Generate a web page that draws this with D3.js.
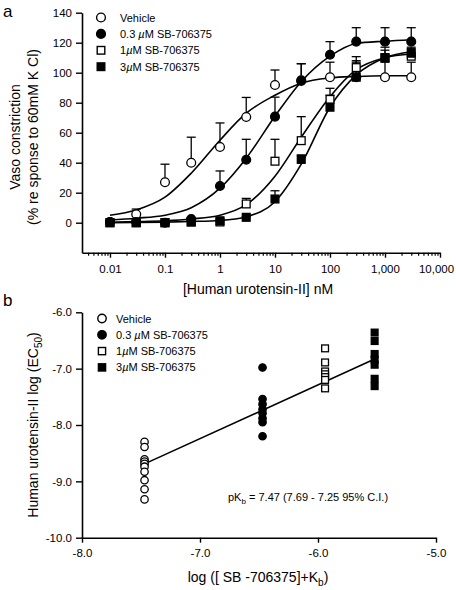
<!DOCTYPE html>
<html><head><meta charset="utf-8">
<script src="https://cdn.jsdelivr.net/npm/d3@7"></script>
<style>
html,body{margin:0;padding:0;background:#fff;}
svg{display:block;font-family:"Liberation Sans",Arial,sans-serif;}
</style></head>
<body><svg id="c" width="456" height="590"></svg>
<script>
// ---------- Panel a data ----------
const conc = [0.01, 0.03, 0.1, 0.3, 1, 3, 10, 30, 100, 300, 1000, 3000];
const seriesNames = ["Vehicle", "0.3 \u00b5M SB-706375", "1\u00b5M SB-706375", "3\u00b5M SB-706375"];
const vehicleMean = [0.5, 5.6, 27, 40, 50.5, 70.5, 91.8, 95, 97, 97, 97, 97];
const vehicleErr  = [0, 3.5, 12, 17, 16, 13, 10, 11, 10, 10, 10, 10];
const sb03Mean = [0.5, 0.5, 0, 2.5, 24.5, 42, 70.7, 94.5, 112, 120.7, 120.7, 120.7];
const sb03Err  = [0, 0, 0, 1, 10, 13.6, 13, 11.5, 8.7, 9.3, 9.3, 9.3];
const sb1Mean  = [0, 0, 0, 0.5, 0.5, 12.5, 41, 54.7, 82.2, 103.4, 110, 111];
const sb1Err   = [0, 0, 0, 0, 0, 3.7, 14.6, 16, 7.4, 7.3, 5, 5];
const sb3Mean  = [0, 0, 0, 0.5, 1.3, 3.6, 15.8, 42.2, 77, 97, 110, 113];
const sb3Err   = [0, 0, 0, 0, 0, 0.5, 5.5, 3, 8, 11, 7, 4];
// fitted curves at each concentration
const vehicleFit = [5, 8.5, 17, 33, 55, 73, 85, 93, 96.5, 97.5, 98, 98];
const sb03Fit    = [1.8, 3, 5, 10, 23, 43, 71, 94, 111, 119.5, 121, 122];
const sb1Fit     = [0.3, 0.7, 1.3, 2.5, 5, 12, 31, 57, 84, 102, 110, 112.5];
const sb3Fit     = [0, 0.2, 0.4, 0.8, 1.5, 4, 14, 39, 77, 98.5, 110, 114];
const xMajorTicks = [0.01, 0.1, 1, 10, 100, 1000, 10000];
const xMajorLabels = ["0.01", "0.1", "1", "10", "100", "1,000", "10,000"];
const yTicksA = [0, 20, 40, 60, 80, 100, 120, 140];

// ---------- Panel b data ----------
const bXpos = [-7.47, -6.47, -5.94, -5.52];
const bVehicle = [-8.30, -8.39, -8.61, -8.65, -8.69, -8.74, -8.83, -8.98, -9.14, -9.32];
const bSb03 = [-6.98, -7.54, -7.63, -7.72, -7.79, -7.88, -7.95, -8.20];
const bSb1 = [-6.64, -6.89, -7.05, -7.10, -7.15, -7.20, -7.35];
const bSb3 = [-6.36, -6.51, -6.74, -6.84, -6.93, -7.18, -7.31];
const regX = [-7.47, -5.52];
const regY = [-8.69, -6.83];
const xTicksB = [-8, -7, -6, -5];
const yTicksB = [-10, -9, -8, -7, -6];

const svg = d3.select("#c");
const FONT = '"Liberation Sans",Arial,sans-serif';
const fmt1 = d => d.toFixed(1);   // plain hyphen minus, as in the original

// ---------------- Panel a ----------------
const xA = d3.scaleLog().domain([0.0031, 10000]).range([82, 440]);
const yA = d3.scaleLinear().domain([-20, 140]).range([252.7, 12.7]);
const gA = svg.append("g");

// minor ticks
const minor = [];
for (let e = -3; e <= 3; e++) for (let m = 2; m <= 9; m++) { const v = m * Math.pow(10, e); if (v >= 0.0031 && v <= 10000) minor.push(v); }
gA.append("g").attr("transform", "translate(0,252.7)")
  .call(d3.axisBottom(xA).tickValues(minor).tickSize(3).tickFormat(""))
  .call(g => g.select(".domain").remove())
  .call(g => g.selectAll("line").attr("stroke-width", 1.2));
gA.append("g").attr("transform", "translate(0,252.7)")
  .call(d3.axisBottom(xA).tickValues(xMajorTicks).tickSize(5).tickSizeOuter(0).tickPadding(7)
    .tickFormat((d, i) => xMajorLabels[i]))
  .call(g => g.select(".domain").attr("stroke-width", 1.6))
  .call(g => g.selectAll("line").attr("stroke-width", 1.4))
  .call(g => g.selectAll("text").attr("font-size", 11.5).attr("font-family", FONT))
  .call(g => g.selectAll("text").filter(d => d === 10000).attr("dx", -4));
gA.append("g").attr("transform", "translate(82,0)")
  .call(d3.axisLeft(yA).tickValues(yTicksA).tickSize(6).tickSizeOuter(0).tickPadding(4))
  .call(g => g.select(".domain").attr("stroke-width", 1.6))
  .call(g => g.selectAll("line").attr("stroke-width", 1.4))
  .call(g => g.selectAll("text").attr("font-size", 11.5).attr("font-family", FONT));

const line = d3.line().x((d, i) => xA(conc[i])).y(d => yA(d)).curve(d3.curveMonotoneX);
[vehicleFit, sb03Fit, sb1Fit, sb3Fit].forEach(f => {
  gA.append("path").attr("d", line(f)).attr("fill", "none").attr("stroke", "#000").attr("stroke-width", 1.6);
});

const seriesA = [
  {m: vehicleMean, e: vehicleErr, shape: "circle", fill: "#fff"},
  {m: sb03Mean, e: sb03Err, shape: "circle", fill: "#000"},
  {m: sb1Mean, e: sb1Err, shape: "square", fill: "#fff"},
  {m: sb3Mean, e: sb3Err, shape: "square", fill: "#000"}
];
// error bars (upper only)
seriesA.forEach(s => {
  s.m.forEach((v, i) => {
    if (s.e[i] <= 0) return;
    const x = xA(conc[i]), y0 = yA(v), y1 = yA(v + s.e[i]);
    gA.append("line").attr("x1", x).attr("x2", x).attr("y1", y0).attr("y2", y1).attr("stroke", "#000").attr("stroke-width", 1.3);
    gA.append("line").attr("x1", x - 4.5).attr("x2", x + 4.5).attr("y1", y1).attr("y2", y1).attr("stroke", "#000").attr("stroke-width", 1.3);
  });
});
function drawSym(g, shape, fill, x, y, r, sw) {
  if (shape === "circle") {
    g.append("circle").attr("cx", x).attr("cy", y).attr("r", r).attr("fill", fill).attr("stroke", "#000").attr("stroke-width", sw);
  } else {
    g.append("rect").attr("x", x - r).attr("y", y - r).attr("width", 2 * r).attr("height", 2 * r).attr("fill", fill).attr("stroke", "#000").attr("stroke-width", sw);
  }
}
seriesA.forEach(s => {
  s.m.forEach((v, i) => drawSym(gA, s.shape, s.fill, xA(conc[i]), yA(v), s.shape === "circle" ? 4.4 : 3.9, 1.3));
});

// legend
function legend(g, x0, xt, y0, dy, r) {
  seriesA.forEach((s, i) => {
    drawSym(g, s.shape, s.fill, x0, y0 + i * dy, s.shape === "circle" ? r : r - 0.6, 1.4);
    const t = g.append("text").attr("x", xt).attr("y", y0 + i * dy + 4).attr("font-size", 11).attr("font-family", FONT);
    const name = seriesNames[i];
    const k = name.indexOf("\u00b5");
    if (k < 0) t.text(name);
    else {
      t.append("tspan").text(name.slice(0, k));
      t.append("tspan").attr("font-style", "italic").text("\u00b5");
      t.append("tspan").text(name.slice(k + 1));
    }
  });
}
legend(gA, 101, 120, 17.5, 16.4, 4.4);

// titles a
svg.append("text").attr("x", 258).attr("y", 294).attr("text-anchor", "middle").attr("font-size", 14).attr("font-family", FONT)
  .text("[Human urotensin-II] nM");
svg.append("text").attr("transform", "translate(20,137) rotate(-90)").attr("text-anchor", "middle").attr("font-size", 14).attr("font-family", FONT)
  .text("Vaso constriction");
svg.append("text").attr("transform", "translate(38,137) rotate(-90)").attr("text-anchor", "middle").attr("font-size", 14).attr("font-family", FONT)
  .text("(% re sponse to 60mM K Cl)");
svg.append("text").attr("x", 3).attr("y", 17).attr("font-size", 17).attr("font-family", FONT).text("a");

// ---------------- Panel b ----------------
const xB = d3.scaleLinear().domain([-8, -5]).range([82, 436]);
const yB = d3.scaleLinear().domain([-10, -6]).range([537.7, 312.3]);
const gB = svg.append("g");
gB.append("g").attr("transform", "translate(0,537.7)")
  .call(d3.axisBottom(xB).tickValues(xTicksB).tickSize(5).tickSizeOuter(0).tickPadding(6).tickFormat(fmt1))
  .call(g => g.select(".domain").attr("stroke-width", 1.6))
  .call(g => g.selectAll("line").attr("stroke-width", 1.4))
  .call(g => g.selectAll("text").attr("font-size", 11.5).attr("font-family", FONT));
gB.append("g").attr("transform", "translate(82,0)")
  .call(d3.axisLeft(yB).tickValues(yTicksB).tickSize(6).tickSizeOuter(0).tickPadding(4).tickFormat(fmt1))
  .call(g => g.select(".domain").attr("stroke-width", 1.6))
  .call(g => g.selectAll("line").attr("stroke-width", 1.4))
  .call(g => g.selectAll("text").attr("font-size", 11.5).attr("font-family", FONT));

gB.append("line").attr("x1", xB(regX[0])).attr("y1", yB(regY[0])).attr("x2", xB(regX[1])).attr("y2", yB(regY[1]))
  .attr("stroke", "#000").attr("stroke-width", 1.6);

[bVehicle, bSb03, bSb1, bSb3].forEach((vals, gi) => {
  const s = seriesA[gi];
  vals.forEach(v => drawSym(gB, s.shape, s.fill, xB(bXpos[gi]), yB(v), s.shape === "circle" ? 3.7 : 3.4, 1.3));
});
legend(gB, 102, 116, 318.5, 16.3, 4.2);

// pKb annotation
const pk = gB.append("text").attr("x", 228).attr("y", 501).attr("font-size", 11).attr("font-family", FONT);
pk.append("tspan").text("pK");
pk.append("tspan").attr("dy", 3).attr("font-size", 8).text("b");
pk.append("tspan").attr("dy", -3).text(" = 7.47 (7.69 - 7.25 95% C.I.)");

// titles b
const xt = svg.append("text").attr("x", 258).attr("y", 582).attr("text-anchor", "middle").attr("font-size", 14).attr("font-family", FONT);
xt.append("tspan").text("log ([ SB -706375]+K");
xt.append("tspan").attr("dy", 4).attr("font-size", 10).text("b");
xt.append("tspan").attr("dy", -4).text(")");
const yt = svg.append("text").attr("transform", "translate(38,425) rotate(-90)").attr("text-anchor", "middle").attr("font-size", 14).attr("font-family", FONT);
yt.append("tspan").text("Human urotensin-II log (EC");
yt.append("tspan").attr("dy", 4).attr("font-size", 10).text("50");
yt.append("tspan").attr("dy", -4).text(")");
svg.append("text").attr("x", 3).attr("y", 306).attr("font-size", 17).attr("font-family", FONT).text("b");
</script></body></html>
